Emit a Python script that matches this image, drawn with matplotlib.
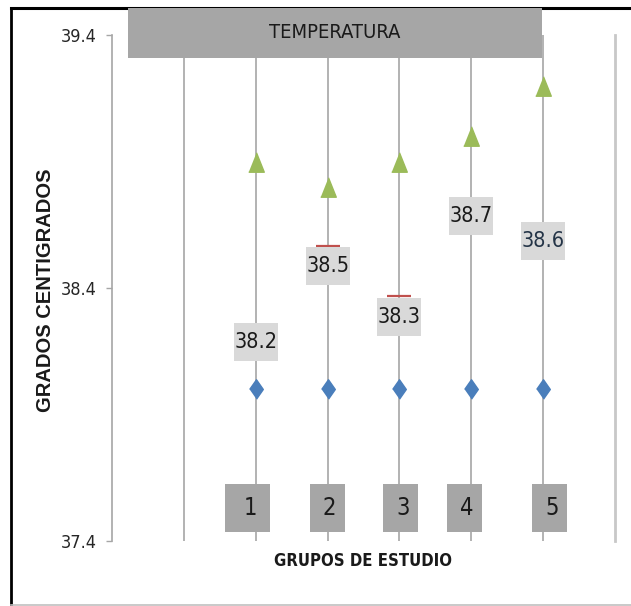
import matplotlib
matplotlib.use("Agg")
import matplotlib.pyplot as plt
from matplotlib import font_manager
from matplotlib.patches import Rectangle
from matplotlib.lines import Line2D
import numpy as np

# buscar una fuente estrecha parecida a Calibri
estrecha = None
for f in font_manager.fontManager.ttflist:
    if f.name == 'Liberation Sans Narrow':
        estrecha = dict(family=['Liberation Sans Narrow', 'DejaVu Sans'])
        break
if estrecha is None:
    for f in font_manager.fontManager.ttflist:
        if f.name == 'DejaVu Sans' and f.stretch == 'condensed':
            estrecha = dict(family=['DejaVu Sans'], stretch='condensed')
            break
if estrecha is None:
    estrecha = dict(family=['Roboto', 'DejaVu Sans'])

grupos = ["1", "2", "3", "4", "5"]
maximo = [38.9, 38.8, 38.9, 39.0, 39.2]
minimo = [38.0, 38.0, 38.0, 38.0, 38.0]
cierre = [38.2, 38.567, 38.367, 38.7, 38.6]
etiquetas = ["38.2", "38.5", "38.3", "38.7", "38.6"]
y_ticks = [37.4, 38.4, 39.4]

# ajustes a mano de las cajas de grupo (como en el original)
desfase_caja = [-0.11, 0.0, 0.02, -0.09, 0.09]
ancho_caja = [0.63, 0.49, 0.49, 0.49, 0.49]

x = np.arange(1, len(grupos) + 1)

fig = plt.figure(figsize=(6.31, 6.06), dpi=100)
ax = fig.add_axes([112/631, 1-541/606, (615-112)/631, (541-35)/606])

ax.set_xlim(-1, 6)
ax.set_ylim(37.4, 39.4)

gris = '#a6a6a6'
ax.vlines(x, 37.4, 39.4, color=gris, lw=1.2, zorder=1)
ax.vlines([0], 37.4, 39.4, color=gris, lw=1.2, zorder=1)

ax.plot(x, minimo, ls='none', marker=[(-0.7, 0), (0, 1), (0.7, 0), (0, -1)],
        ms=14, color='#4a7ebb', mec='#4a7ebb', zorder=3)
ax.plot(x, maximo, ls='none', marker=[(-0.8, -1), (0.8, -1), (0, 1)],
        ms=14, color='#9bbb59', mec='#9bbb59', zorder=3)
ax.plot(x, cierre, ls='none', marker='_', ms=17, mew=1.6,
        color='#c0504d', zorder=3)

# etiquetas de datos con caja gris (44x38 px aprox.)
caja_w, caja_h, baja = 0.612, 0.150, 0.014
for i, (xi, et) in enumerate(zip(x, etiquetas)):
    v = float(et) - baja
    col = '#243447' if i == 4 else '#1a1a1a'
    ax.add_patch(Rectangle((xi - caja_w/2, v - caja_h/2), caja_w, caja_h,
                           fc='#d9d9d9', ec='none', zorder=4))
    ax.text(xi, v, et, ha='center', va='center', fontsize=15.5, color=col,
            zorder=5, **estrecha)

for xi, g, d, w in zip(x, grupos, desfase_caja, ancho_caja):
    ax.add_patch(Rectangle((xi + d - w/2, 37.436), w, 0.19, fc=gris,
                           ec='none', zorder=4))
    ax.text(xi + d + 0.03, 37.53, g, ha='center', va='center', fontsize=17,
            color='#1a1a1a', zorder=6, **estrecha)

ax.set_yticks(y_ticks)
ax.set_yticklabels([f"{v:.1f}" for v in y_ticks], fontsize=13,
                   color='#262626', **estrecha)
ax.set_xticks([])
ax.tick_params(axis='y', length=4, width=1, color=gris, pad=7)
for s in ['top', 'bottom']:
    ax.spines[s].set_visible(False)
ax.spines['left'].set_color(gris)
ax.spines['left'].set_linewidth(1.2)
ax.spines['right'].set_color('#c8c8c8')
ax.spines['right'].set_linewidth(2)

# caja del titulo
fig.patches.append(Rectangle((128/631, 1-58/606), (542-128)/631, 50/606,
                             transform=fig.transFigure, fc=gris, ec='none',
                             zorder=10))
fig.text(335/631, 1-33/606, "TEMPERATURA", ha='center', va='center',
         fontsize=14.5, color='#1a1a1a', zorder=11, **estrecha)

fig.text(363/631, 1-561/606, "GRUPOS DE ESTUDIO", ha='center', va='center',
         fontsize=12, color='#1a1a1a', fontweight='bold', **estrecha)
fig.text(46/631, 1-290/606, "GRADOS CENTIGRADOS", ha='center', va='center',
         rotation=90, fontsize=14.5, fontweight='bold', color='#1a1a1a',
         family=['Liberation Sans', 'DejaVu Sans'])

# marco
fig.add_artist(Line2D([11/631, 1], [1-8/606, 1-8/606], color='black', lw=2.2))
fig.add_artist(Line2D([11/631, 11/631], [1-8/606, 1-605/606], color='black', lw=2))
fig.add_artist(Line2D([11/631, 1], [1-605/606, 1-605/606], color='#c0c0c0', lw=1.2))

fig.savefig("out.png", dpi=100)
